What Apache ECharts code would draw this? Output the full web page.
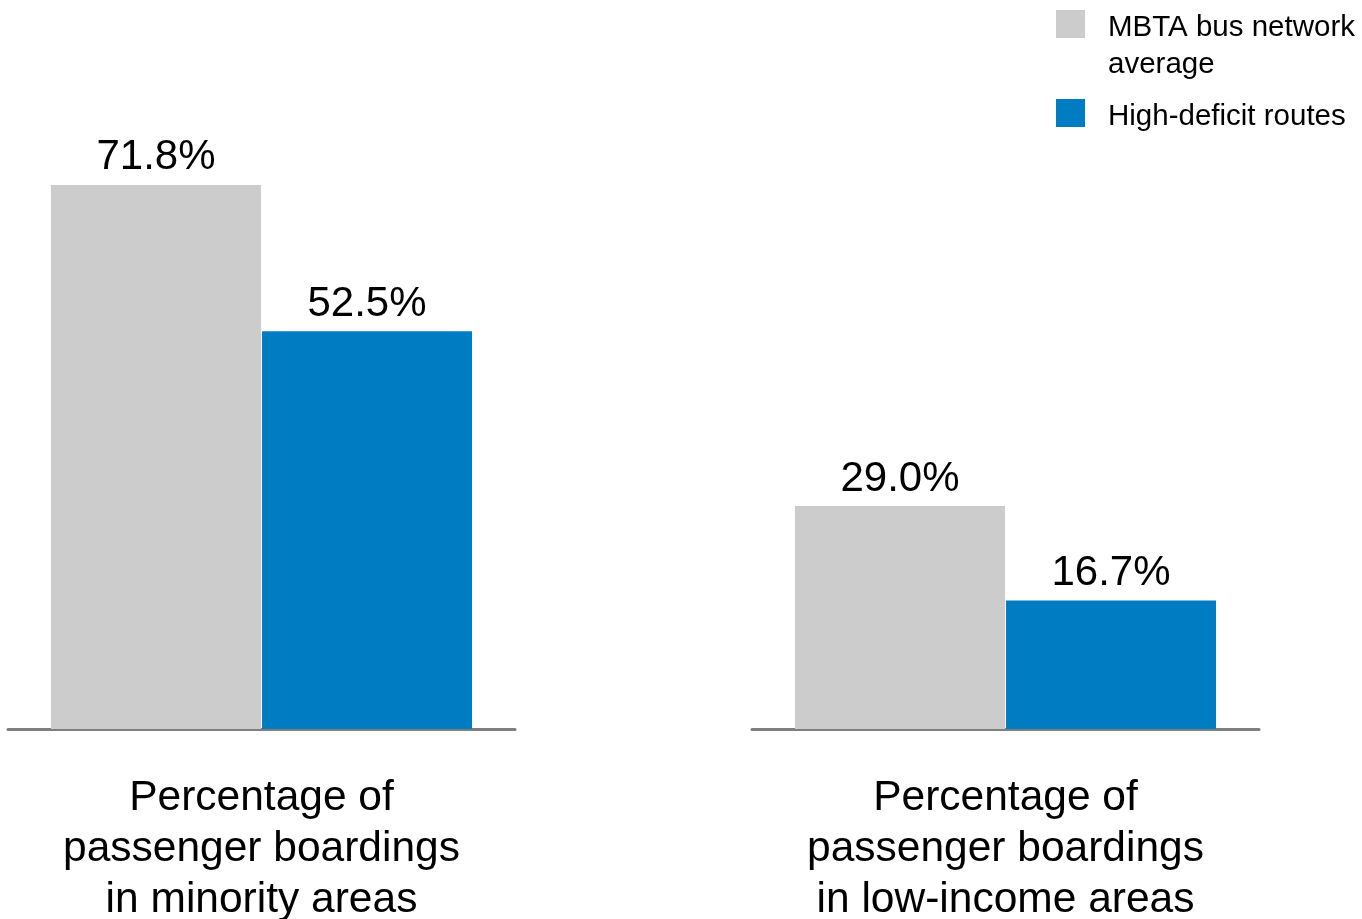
<!DOCTYPE html>
<html>
<head>
<meta charset="utf-8">
<script src="https://cdn.jsdelivr.net/npm/echarts@6/dist/echarts.min.js"></script>
<style>
  html, body { margin: 0; padding: 0; background: #ffffff; }
  #chart { width: 1362px; height: 919px; }
</style>
</head>
<body>
<div id="chart"></div>
<script>
// Share of passenger boardings, network average vs high-deficit routes
const categories = [
  'Percentage of\npassenger boardings\nin minority areas',
  'Percentage of\npassenger boardings\nin low-income areas'
];
const seriesNames = ['MBTA bus network\naverage', 'High-deficit routes'];
const networkAverage = [71.8, 29.0];
const highDeficit = [52.5, 16.7];
const seriesColors = ['#cccccc', '#007cc3'];

const FONT = '"Liberation Sans", Arial, Helvetica, sans-serif';

// Each panel is scaled on its own
const panelMax = [96.2, 94.8];
const panelLeft = [8, 752];

const grids = panelLeft.map(l => ({
  left: l, width: 507, top: 0, height: 729,
  containLabel: false,
  outerBoundsMode: 'none'
}));

const xAxes = categories.map((c, i) => ({
  type: 'category',
  gridIndex: i,
  data: [c],
  offset: 2,
  axisLine: { show: true, lineStyle: { color: '#7f7f7f', width: 3 } },
  axisTick: { show: false },
  axisLabel: {
    interval: 0,
    margin: 42,
    color: '#000000',
    fontFamily: FONT,
    fontSize: 42.5,
    lineHeight: 51
  }
}));

const yAxes = categories.map((c, i) => ({
  type: 'value',
  gridIndex: i,
  min: 0,
  max: panelMax[i],
  show: false
}));

const valueLabel = {
  show: true,
  position: 'top',
  distance: 6,
  color: '#000000',
  fontFamily: FONT,
  fontSize: 42,
  formatter: p => p.value.toFixed(1) + '%'
};

const series = [];
categories.forEach((c, i) => {
  [networkAverage, highDeficit].forEach((arr, k) => {
    series.push({
      type: 'bar',
      name: seriesNames[k],
      xAxisIndex: i,
      yAxisIndex: i,
      data: [arr[i]],
      barWidth: 210,
      barGap: '0.5%',
      itemStyle: { color: seriesColors[k] },
      label: valueLabel,
      emphasis: { disabled: true },
      animation: false
    });
  });
});

// Legend swatches with the label's first line aligned to the swatch
const legendRows = [10, 99];
const legendGraphics = [];
seriesNames.forEach((name, k) => {
  legendGraphics.push({
    type: 'rect',
    left: 1056,
    top: legendRows[k],
    shape: { width: 29, height: 28 },
    style: { fill: seriesColors[k] }
  });
  legendGraphics.push({
    type: 'text',
    left: 1108,
    top: legendRows[k] - 1,
    style: {
      text: name,
      fill: '#000000',
      font: '29.5px ' + FONT,
      lineHeight: 37
    }
  });
});

const chart = echarts.init(document.getElementById('chart'), null, { renderer: 'canvas' });
chart.setOption({
  animation: false,
  backgroundColor: '#ffffff',
  grid: grids,
  xAxis: xAxes,
  yAxis: yAxes,
  series: series,
  graphic: legendGraphics
});
</script>
</body>
</html>
